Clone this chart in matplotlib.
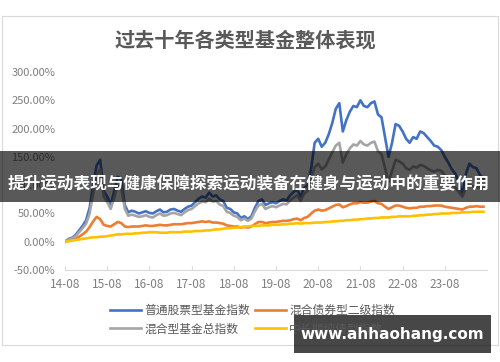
import matplotlib
matplotlib.use("Agg")
import matplotlib.pyplot as plt
from matplotlib.patches import Rectangle
import numpy as np

plt.rcParams['font.family'] = ['Noto Sans CJK SC', 'DejaVu Sans']

# 月度数据 14-08 ... 24-07 (累计收益, %)
gupiao = [0, 5, 7, 12, 20, 28, 38, 60, 100, 135, 145, 90,
          80, 65, 90, 115, 110, 65, 52, 55, 53, 50, 52, 54,
          51, 50, 54, 57, 52, 53, 57, 58, 55, 53, 58, 62,
          64, 70, 76, 80, 78, 87, 80, 82, 75, 72, 60, 58,
          52, 50, 42, 45, 40, 45, 60, 72, 75, 65, 68, 70,
          68, 72, 75, 73, 82, 88, 92, 80, 95, 100, 130, 175,
          182, 168, 175, 190, 210, 235, 245, 195, 215, 230, 240, 238,
          250, 240, 238, 245, 248, 225, 220, 185, 150, 175, 208, 205,
          195, 182, 175, 185, 182, 195, 192, 185, 178, 170, 168, 162,
          150, 140, 128, 120, 105, 85, 120, 138, 132, 130, 118, 112]
hunhe = [0, 4, 6, 10, 17, 24, 32, 50, 85, 118, 128, 80,
         70, 58, 78, 100, 96, 58, 46, 48, 46, 44, 45, 47,
         44, 43, 47, 50, 46, 47, 50, 51, 49, 47, 52, 56,
         58, 63, 68, 71, 70, 76, 71, 72, 66, 63, 53, 51,
         46, 44, 38, 41, 37, 41, 54, 64, 67, 58, 61, 63,
         61, 64, 67, 66, 73, 78, 82, 72, 85, 90, 112, 132,
         138, 128, 133, 145, 158, 170, 175, 140, 155, 165, 172, 170,
         178, 172, 170, 175, 177, 160, 155, 130, 106, 125, 145, 142,
         138, 130, 127, 133, 131, 136, 134, 130, 126, 124, 127, 125,
         118, 110, 102, 96, 88, 80, 95, 100, 98, 97, 96, 95]
erji = [0, 2, 3, 5, 9, 13, 18, 26, 36, 44, 40, 30,
        28, 27, 31, 35, 33, 27, 26, 27, 27, 27, 28, 29,
        28, 28, 29, 30, 29, 29, 30, 31, 31, 31, 32, 33,
        33, 34, 35, 36, 35, 36, 34, 34, 33, 32, 29, 28,
        27, 27, 25, 26, 25, 27, 31, 35, 35, 33, 34, 35,
        35, 36, 37, 37, 38, 40, 41, 38, 42, 44, 50, 55,
        57, 55, 56, 59, 62, 65, 66, 61, 63, 66, 68, 68,
        70, 69, 69, 71, 72, 68, 67, 62, 58, 61, 64, 64,
        62, 60, 59, 60, 60, 62, 62, 63, 63, 64, 64, 64,
        62, 61, 60, 59, 58, 57, 60, 62, 62, 63, 62, 62]
chunzhai = [0, 1, 2, 3, 4, 5, 6, 7, 8, 8, 9, 9,
            10, 11, 12, 13, 13, 14, 14, 14, 15, 15, 16, 16,
            17, 17, 17, 16, 16, 16, 17, 17, 17, 17, 18, 18,
            18, 19, 19, 19, 20, 20, 21, 22, 22, 23, 24, 24,
            25, 25, 26, 27, 27, 28, 28, 28, 29, 29, 29, 30,
            30, 30, 31, 31, 32, 32, 33, 32, 33, 33, 33, 34,
            34, 34, 35, 35, 36, 36, 37, 37, 38, 38, 39, 39,
            40, 40, 41, 41, 42, 42, 43, 43, 43, 44, 44, 45,
            45, 45, 45, 46, 46, 47, 47, 48, 48, 49, 49, 50,
            50, 50, 51, 51, 51, 52, 52, 52, 53, 53, 53, 53]

x_labels = ['14-08', '15-08', '16-08', '17-08', '18-08',
            '19-08', '20-08', '21-08', '22-08', '23-08']
y_ticks = [-50, 0, 50, 100, 150, 200, 250, 300]

nomi = ['普通股票型基金指数', '混合债券型二级指数', '混合型基金总指数', '中长期纯债型指数']
colori = ['#4472C4', '#ED7D31', '#A5A5A5', '#FFC000']

fig = plt.figure(figsize=(5.0, 3.62), dpi=100)
fig.patches.append(Rectangle((0.003, 0.047), 0.992, 0.91, transform=fig.transFigure,
                             fill=False, edgecolor='#d9d9d9', linewidth=0.8))

ax = fig.add_axes([0.13, 0.254, 0.844, 0.547])
linee = []
for serie, nome, col in zip([gupiao, erji, hunhe, chunzhai], nomi, colori):
    xs = np.arange(len(serie))
    l, = ax.plot(xs, serie, color=col, linewidth=1.9, label=nome)
    linee.append(l)

ax.set_xlim(0, 120)
ax.set_ylim(-50, 300)
ax.set_xticks(np.arange(0, 120, 12))
ax.set_xticklabels(x_labels)
ax.set_yticks(y_ticks)
ax.set_yticklabels(['%.2f%%' % v for v in y_ticks])
ax.tick_params(axis='y', length=0, labelsize=8, labelcolor='#7f7f7f', pad=7)
ax.tick_params(axis='x', direction='in', length=3, color='#d9d9d9',
               labelsize=8.5, labelcolor='#7f7f7f', pad=6)
for s in ['top', 'right', 'left']:
    ax.spines[s].set_visible(False)
ax.spines['bottom'].set_color('#d9d9d9')

fig.text(0.49, 0.888, '过去十年各类型基金整体表现', ha='center', va='center',
         fontsize=14.5, color='#595959', fontweight='bold')

# legenda: ordine per colonne -> riga 1 blu/arancio, riga 2 grigio/giallo
fig.legend([linee[0], linee[2], linee[1], linee[3]],
           [nomi[0], nomi[2], nomi[1], nomi[3]],
           ncol=2, loc='center', bbox_to_anchor=(0.505, 0.117), frameon=False,
           fontsize=8.5, labelcolor='#595959', handlelength=2.6,
           columnspacing=0.4, handletextpad=0.3, labelspacing=0.5)

# banner sovrapposto
fig.patches.append(Rectangle((0, 1 - 202 / 362), 1, 51 / 362, transform=fig.transFigure,
                             facecolor='black', alpha=0.65, edgecolor='none', zorder=5))
fig.text(0.497, 1 - 184 / 362, '提升运动表现与健康保障探索运动装备在健身与运动中的重要作用',
         ha='center', va='center', fontsize=12, color='white', fontweight='bold', zorder=6)

fig.patches.append(Rectangle((294 / 500, 1 - 353 / 362), 197 / 500, 38 / 362,
                             transform=fig.transFigure, facecolor='black', alpha=0.72,
                             edgecolor='none', zorder=5))
fig.text(392 / 500, 1 - 335 / 362, 'www.ahhaohang.com', ha='center', va='center',
         fontsize=11, color='white', fontweight='bold', family='DejaVu Sans', zorder=6)

fig.savefig('out.png', dpi=100)
